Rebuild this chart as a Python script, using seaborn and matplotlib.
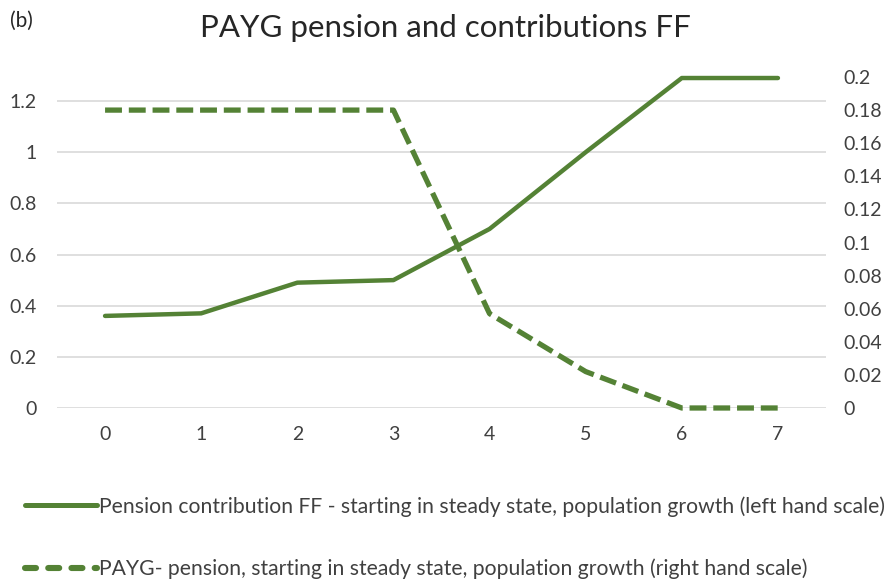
import matplotlib
matplotlib.use("Agg")
import matplotlib.pyplot as plt
import seaborn as sns
import pandas as pd
from matplotlib.lines import Line2D

periods = [0, 1, 2, 3, 4, 5, 6, 7]
pension_contribution_ff = [0.36, 0.37, 0.49, 0.50, 0.70, 1.00, 1.29, 1.29]
payg_pension = [0.18, 0.18, 0.18, 0.18, 0.057, 0.022, 0.0, 0.0]
left_ticks = [0, 0.2, 0.4, 0.6, 0.8, 1.0, 1.2]
left_labels = ["0", "0.2", "0.4", "0.6", "0.8", "1", "1.2"]
right_ticks = [0, 0.02, 0.04, 0.06, 0.08, 0.10, 0.12, 0.14, 0.16, 0.18, 0.20]
right_labels = ["0", "0.02", "0.04", "0.06", "0.08", "0.1", "0.12", "0.14", "0.16", "0.18", "0.2"]
title = "PAYG pension and contributions FF"
label_solid = "Pension contribution FF - starting in steady state, population growth (left hand scale)"
label_dashed = "PAYG- pension, starting in steady state, population growth (right hand scale)"

sns.set_theme(style="white")
plt.rcParams["font.family"] = ["Lato", "DejaVu Sans"]

df = pd.DataFrame({"period": periods, "ff": pension_contribution_ff, "payg": payg_pension})

green = "#548235"
text_col = "#404040"

fig = plt.figure(figsize=(8.9, 5.8), dpi=100)
ax = fig.add_axes([57/890, 1 - 408/580, (826 - 57)/890, (408 - 77)/580])
ax2 = ax.twinx()

sns.lineplot(data=df, x="period", y="ff", ax=ax, color=green, linewidth=3.2, legend=False)
sns.lineplot(data=df, x="period", y="payg", ax=ax2, color=green, linewidth=3.8, legend=False)
ax2.lines[0].set_dashes((3.2, 1.3))
ax2.lines[0].set_clip_on(False)
ax.lines[0].set_clip_on(False)

ax.set_xlim(-0.5, 7.5)
ax.set_ylim(0, 1.294)
ax2.set_ylim(0, 0.2)
ax.set_yticks(left_ticks)
ax.set_yticklabels(left_labels)
ax2.set_yticks(right_ticks)
ax2.set_yticklabels(right_labels)
ax.set_xticks(periods)
ax.set_xticklabels([str(p) for p in periods])
ax.set_xlabel("")
ax.set_ylabel("")
ax2.set_ylabel("")

ax.grid(axis="y", color="#d9d9d9", linewidth=1.2)
ax.grid(axis="x", visible=False)
ax2.grid(False)
for a in (ax, ax2):
    for s in a.spines.values():
        s.set_visible(False)
    a.tick_params(length=0, labelsize=14, colors=text_col)
ax.tick_params(axis="y", pad=14.5)
ax2.tick_params(axis="y", pad=12.5)
ax.tick_params(axis="x", pad=13)

fig.text(0.5, 1 - 28/580, title, ha="center", va="center", fontsize=22.5, color="#262626")
fig.text(10/890, 1 - 21/580, "(b)", ha="left", va="center", fontsize=15, color="#262626")

h1 = Line2D([0], [0], color=green, linewidth=3.6)
h2 = Line2D([0], [0], color=green, linewidth=4.4, dashes=(1.8, 2.0),
            dash_capstyle="round")
fig.legend([h1, h2], [label_solid, label_dashed], loc="upper left",
           bbox_to_anchor=(25/890, 1 - 496/580), frameon=False, fontsize=15.2,
           labelspacing=2.0, handlelength=3.4, handletextpad=0.1,
           borderaxespad=0, borderpad=0, labelcolor=text_col)

fig.savefig("out.png", dpi=100)
